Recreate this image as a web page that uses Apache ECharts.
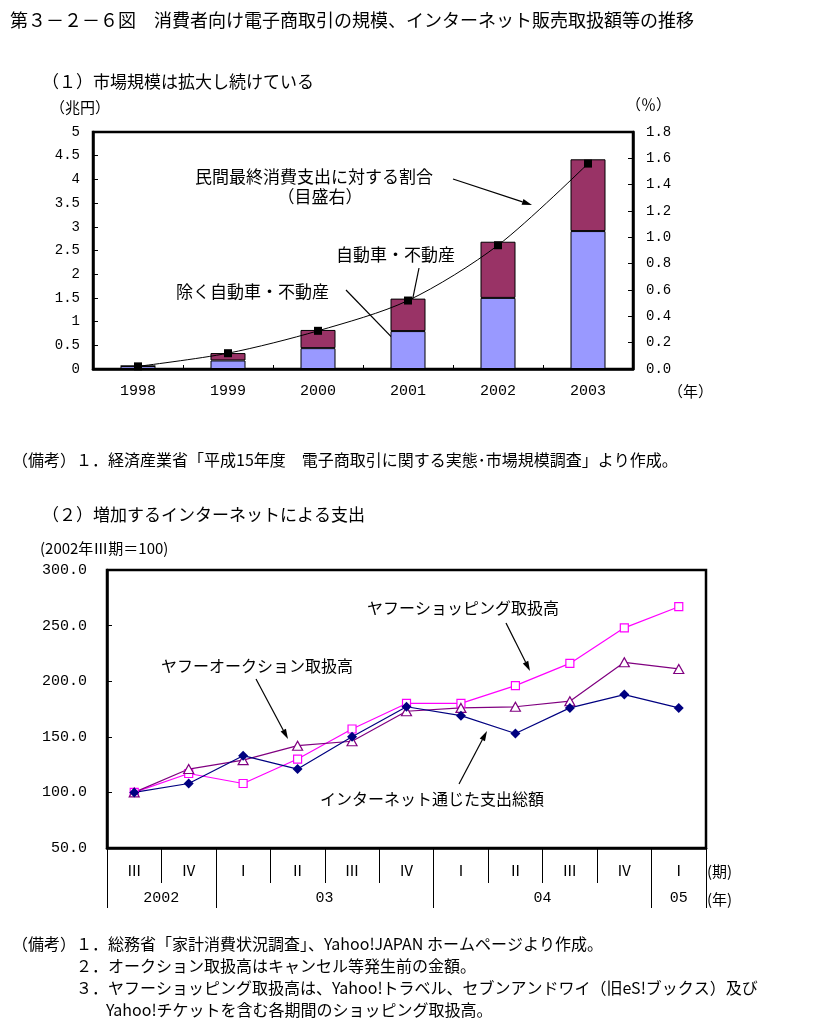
<!DOCTYPE html>
<html><head><meta charset="utf-8">
<script src="https://cdn.jsdelivr.net/npm/echarts@6/dist/echarts.min.js"></script>
<style>html,body{margin:0;padding:0;background:#fff}#c{width:814px;height:1026px}</style>
</head><body><div id="c"></div>
<script>
// ---- data (1) ----
const years = ['1998','1999','2000','2001','2002','2003'];
const exclAutoRE = [0.06, 0.18, 0.44, 0.80, 1.50, 2.91];   // 除く自動車・不動産 (兆円)
const autoRE     = [0.005, 0.156, 0.384, 0.685, 1.185, 1.514]; // 自動車・不動産 (兆円)
const sharePct   = [0.02, 0.12, 0.29, 0.52, 0.94, 1.56];   // 民間最終消費支出に対する割合 (%)
// ---- data (2) ----
const quarters = ['Ⅲ','Ⅳ','Ⅰ','Ⅱ','Ⅲ','Ⅳ','Ⅰ','Ⅱ','Ⅲ','Ⅳ','Ⅰ'];
const yearRow  = ['2002','','','03','','','','04','','','05'];
const yearShift = [0, 3, 7];          // labels centred on a boundary
const totalNet = [100, 108, 133, 121, 150, 177, 169, 153, 176, 188, 176];
const auction  = [100, 121, 129, 142, 146, 173, 176, 177, 182, 217, 211];
const shopping = [100, 117, 108, 130, 157, 180, 180, 196, 216, 248, 267];

const JP = "'Noto Sans CJK JP', sans-serif";
const MONO = "'Liberation Mono', 'Noto Sans CJK JP', monospace";

function txt(x, y, text, size, align) {
  return {type:'text', x:x, y:y, silent:true, style:{text:text, fill:'#000', font:size+'px '+JP, align:align||'left', verticalAlign:'middle'}};
}
function arrow(x1, y1, x2, y2) {
  const a = Math.atan2(y2-y1, x2-x1), L = 10, W = 3;
  const bx = x2 - L*Math.cos(a), by = y2 - L*Math.sin(a);
  const px = -Math.sin(a)*W, py = Math.cos(a)*W;
  return [
    {type:'line', silent:true, shape:{x1:x1, y1:y1, x2:bx, y2:by}, style:{stroke:'#000', lineWidth:1.2}},
    {type:'polygon', silent:true, shape:{points:[[x2,y2],[bx+px,by+py],[bx-px,by-py]]}, style:{fill:'#000'}}
  ];
}

const graphics = [
  txt(10, 20, '第３－２－６図　消費者向け電子商取引の規模、インターネット販売取扱額等の推移', 18),
  txt(42, 82, '（１）市場規模は拡大し続けている', 17),
  txt(50, 107, '（兆円）', 15),
  txt(626, 104, '（％）', 15),
  txt(668, 391, '（年）', 15),
  txt(195, 177, '民間最終消費支出に対する割合', 17),
  txt(320, 197, '（目盛右）', 17, 'center'),
  txt(336, 255, '自動車・不動産', 17),
  txt(176, 292, '除く自動車・不動産', 17),
  txt(12, 460, '（備考）１．経済産業省「平成15年度　電子商取引に関する実態･市場規模調査」より作成。', 16),
  txt(42, 515, '（２）増加するインターネットによる支出', 17),
  txt(40, 548, '(2002年Ⅲ期＝100)', 15),
  txt(367, 608, 'ヤフーショッピング取扱高', 16),
  txt(161, 666, 'ヤフーオークション取扱高', 16),
  txt(320, 799, 'インターネット通じた支出総額', 16),
  txt(707, 871, '(期)', 15),
  txt(707, 899, '(年)', 15),
  txt(12, 944, '（備考）１．総務省「家計消費状況調査」、Yahoo!JAPAN ホームページより作成。', 16),
  txt(76, 966, '２．オークション取扱高はキャンセル等発生前の金額。', 16),
  txt(76, 988, '３．ヤフーショッピング取扱高は、Yahoo!トラベル、セブンアンドワイ（旧eS!ブックス）及び', 16),
  txt(106, 1010, 'Yahoo!チケットを含む各期間のショッピング取扱高。', 16)
].concat(
  arrow(453, 179, 532, 205),
  arrow(419, 268, 409, 317),
  arrow(346, 290, 408, 354),
  arrow(506, 623, 530, 671),
  arrow(256, 679, 288, 739),
  arrow(459, 784, 487, 731)
);

const blackLine = {color:'#000'};
const option = {
  animation: false,
  backgroundColor: '#fff',
  grid: [
    {left:93, top:132, width:540, height:237, show:true, borderColor:'#000', borderWidth:2.5, backgroundColor:'transparent', containLabel:false, outerBoundsMode:'none'},
    {left:107, top:570, width:599, height:278, show:true, borderColor:'#000', borderWidth:2.5, backgroundColor:'transparent', containLabel:false, outerBoundsMode:'none'}
  ],
  xAxis: [
    {type:'category', gridIndex:0, data:years,
     axisLine:{show:true, lineStyle:{color:'#000', width:2.5}},
     axisTick:{show:true, inside:true, length:4, lineStyle:blackLine},
     axisLabel:{interval:0, color:'#000', fontFamily:MONO, fontSize:15, margin:15},
     splitLine:{show:false}},
    {type:'category', gridIndex:1, data:quarters,
     axisLine:{show:true, lineStyle:{color:'#000', width:2.5}},
     axisTick:{show:true, inside:false, length:35, interval:0, lineStyle:blackLine},
     axisLabel:{interval:0, color:'#000', fontFamily:JP, fontSize:15, margin:15},
     splitLine:{show:false}},
    {type:'category', gridIndex:1, data:yearRow, position:'bottom',
     axisLine:{show:false},
     axisTick:{show:true, inside:false, length:60, lineStyle:blackLine,
               interval:function(i){ return i === 0 || quarters[i] === 'Ⅰ'; }},
     axisLabel:{interval:0, color:'#000', fontFamily:MONO, fontSize:15, margin:43,
                formatter:function(v, i){ return (v && yearShift.indexOf(i) >= 0) ? '{s|' + v + '}' : v; },
                rich:{s:{fontFamily:MONO, fontSize:15, color:'#000', padding:[0,0,0,54]}}},
     splitLine:{show:false}}
  ],
  yAxis: [
    {type:'value', gridIndex:0, min:0, max:5, interval:0.5,
     axisLine:{show:true, lineStyle:{color:'#000', width:2.5}},
     axisTick:{show:true, inside:true, length:5, lineStyle:blackLine},
     axisLabel:{color:'#000', fontFamily:MONO, fontSize:14, margin:13},
     splitLine:{show:false}},
    {type:'value', gridIndex:0, min:0, max:1.8, interval:0.2, position:'right',
     axisLine:{show:true, lineStyle:{color:'#000', width:2.5}},
     axisTick:{show:true, inside:true, length:5, lineStyle:blackLine},
     axisLabel:{color:'#000', fontFamily:MONO, fontSize:14, margin:13, formatter:function(v){return v.toFixed(1);}},
     splitLine:{show:false}},
    {type:'value', gridIndex:1, min:50, max:300, interval:50,
     axisLine:{show:true, lineStyle:{color:'#000', width:2.5}},
     axisTick:{show:true, inside:true, length:5, lineStyle:blackLine},
     axisLabel:{color:'#000', fontFamily:MONO, fontSize:15, margin:20, formatter:function(v){return v.toFixed(1);}},
     splitLine:{show:false}}
  ],
  series: [
    {name:'除く自動車・不動産', type:'bar', xAxisIndex:0, yAxisIndex:0, stack:'ec', data:exclAutoRE, barWidth:35,
     itemStyle:{color:'#9999FF', borderColor:'#000', borderWidth:1}, emphasis:{disabled:true}},
    {name:'自動車・不動産', type:'bar', xAxisIndex:0, yAxisIndex:0, stack:'ec', data:autoRE, barWidth:35,
     itemStyle:{color:'#993366', borderColor:'#000', borderWidth:1}, emphasis:{disabled:true}},
    {name:'民間最終消費支出に対する割合', type:'line', xAxisIndex:0, yAxisIndex:1, data:sharePct, smooth:0.3,
     symbol:'rect', symbolSize:8, lineStyle:{color:'#000', width:1}, itemStyle:{color:'#000'}, z:5, emphasis:{disabled:true}},
    {name:'ヤフーショッピング取扱高', type:'line', xAxisIndex:1, yAxisIndex:2, data:shopping,
     symbol:'rect', symbolSize:8, showAllSymbol:true, lineStyle:{color:'#FF00FF', width:1.2},
     itemStyle:{color:'#fff', borderColor:'#FF00FF', borderWidth:1.2}, emphasis:{disabled:true}},
    {name:'ヤフーオークション取扱高', type:'line', xAxisIndex:1, yAxisIndex:2, data:auction,
     symbol:'triangle', symbolSize:[10,9], showAllSymbol:true, lineStyle:{color:'#800080', width:1.2},
     itemStyle:{color:'#fff', borderColor:'#800080', borderWidth:1.2}, emphasis:{disabled:true}},
    {name:'インターネット通じた支出総額', type:'line', xAxisIndex:1, yAxisIndex:2, data:totalNet,
     symbol:'diamond', symbolSize:10, showAllSymbol:true, lineStyle:{color:'#000080', width:1.2},
     itemStyle:{color:'#000080'}, emphasis:{disabled:true}}
  ],
  graphic: graphics
};
const chart = echarts.init(document.getElementById('c'));
chart.setOption(option);
</script></body></html>
